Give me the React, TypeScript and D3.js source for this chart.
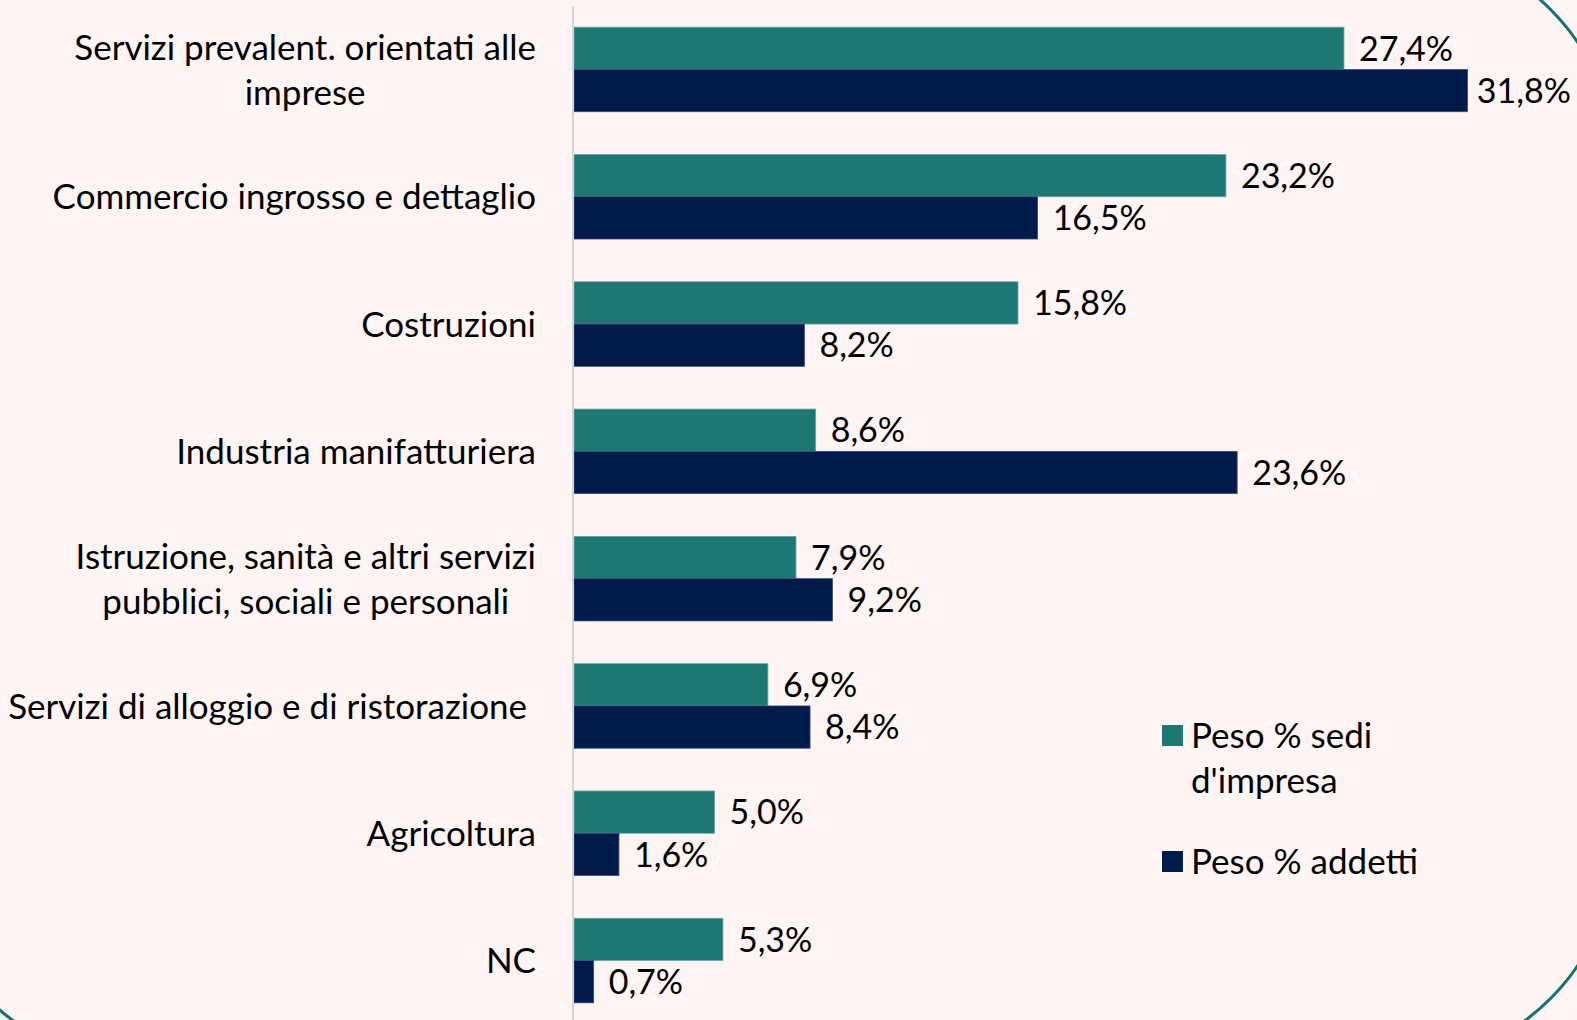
import React, { useEffect, useRef } from "react";
import * as d3 from "d3";

const categories: string[][] = [
  ["Servizi prevalent. orientati alle", "imprese"],
  ["Commercio ingrosso e dettaglio"],
  ["Costruzioni"],
  ["Industria manifatturiera"],
  ["Istruzione, sanità e altri servizi", "pubblici, sociali e personali"],
  ["Servizi di alloggio e di ristorazione "],
  ["Agricoltura"],
  ["NC"],
];
const sediValues = [27.4, 23.2, 15.8, 8.6, 7.9, 6.9, 5.0, 5.3];
const addettiValues = [31.8, 16.5, 8.2, 23.6, 9.2, 8.4, 1.6, 0.7];
const seriesNames = [["Peso % sedi", "d'impresa"], ["Peso % addetti"]];

const W = 1577;
const H = 1020;
const FONT = "Lato, 'Noto Sans', sans-serif";
const FS = 35;
const VFS = 34;
const TEAL = "#1f7774";
const NAVY = "#001a49";

export default function App() {
  const ref = useRef<SVGSVGElement | null>(null);

  useEffect(() => {
    const svg = d3.select(ref.current);
    svg.selectAll("*").remove();

    svg.append("rect").attr("width", W).attr("height", H).attr("fill", "#fdf4f3");
    svg
      .append("rect")
      .attr("x", -77)
      .attr("y", -55)
      .attr("width", 1692)
      .attr("height", 1118)
      .attr("rx", 220)
      .attr("fill", "none")
      .attr("stroke", "#14716f")
      .attr("stroke-width", 3);

    const idx = categories.map((_, i) => String(i));
    const y = d3.scaleBand<string>().domain(idx).range([5.8, 1024.2]).paddingInner(0.336).paddingOuter(0.168);
    const x = d3.scaleLinear().domain([0, 35]).range([574, 574 + 35 * 28.1]);
    const bh = y.bandwidth() / 2;
    const fmt = (v: number) => v.toFixed(1).replace(".", ",") + "%";

    const valueLabel = (parent: any, v: number, yc: number) => {
      const t = parent
        .append("text")
        .attr("x", x(v) + 15)
        .attr("y", yc)
        .attr("dy", "0.36em")
        .attr("font-family", FONT)
        .attr("font-size", VFS)
        .attr("fill", "#000")
        .text(fmt(v));
      const w = (t.node() as SVGTextElement).getComputedTextLength();
      const maxX = W - 6 - w;
      if (x(v) + 15 > maxX) t.attr("x", Math.max(x(v) + 8, maxX));
    };

    const g = svg.append("g");
    idx.forEach((k, i) => {
      const y0 = y(k)!;
      g.append("rect")
        .attr("x", x(0))
        .attr("y", y0)
        .attr("width", x(sediValues[i]) - x(0))
        .attr("height", bh)
        .attr("fill", TEAL)
        .attr("stroke", "#6fa3a6")
        .attr("stroke-width", 0.8);
      g.append("rect")
        .attr("x", x(0))
        .attr("y", y0 + bh)
        .attr("width", x(addettiValues[i]) - x(0))
        .attr("height", bh)
        .attr("fill", NAVY)
        .attr("stroke", "#3b4f7a")
        .attr("stroke-width", 0.8);
      valueLabel(g, sediValues[i], y0 + bh / 2);
      valueLabel(g, addettiValues[i], y0 + bh * 1.5);

      // category labels
      const lines = categories[i];
      const cy = y0 + y.bandwidth() / 2;
      const lh = 45;
      const tg = g.append("g");
      const texts = lines.map((ln, j) =>
        tg
          .append("text")
          .attr("y", cy + (j - (lines.length - 1) / 2) * lh)
          .attr("dy", "0.36em")
          .attr("font-family", FONT)
          .attr("font-size", FS)
          .attr("fill", "#000")
          .attr("text-anchor", "middle")
          .style("white-space", "pre")
          .text(ln)
      );
      const maxW = d3.max(texts, (t) => (t.node() as SVGTextElement).getComputedTextLength()) || 0;
      texts.forEach((t) => t.attr("x", 536 - maxW / 2));
    });

    // axis line
    svg
      .append("line")
      .attr("x1", 573)
      .attr("x2", 573)
      .attr("y1", 6)
      .attr("y2", H)
      .attr("stroke", "#d4d4d4")
      .attr("stroke-width", 2);

    // legend
    const legend = svg.append("g");
    const colors = [TEAL, NAVY];
    const ys = [735, 861];
    seriesNames.forEach((lines, i) => {
      legend
        .append("rect")
        .attr("x", 1162)
        .attr("y", ys[i] - 10)
        .attr("width", 21)
        .attr("height", 21)
        .attr("fill", colors[i]);
      lines.forEach((ln, j) => {
        legend
          .append("text")
          .attr("x", 1191)
          .attr("y", ys[i] + j * 45)
          .attr("dy", "0.36em")
          .attr("font-family", FONT)
          .attr("font-size", FS)
          .attr("fill", "#000")
          .text(ln);
      });
    });
  }, []);

  return (
    <>
      <style>{`body{margin:0;}`}</style>
      <svg ref={ref} width={W} height={H} style={{ display: "block" }} />
    </>
  );
}
